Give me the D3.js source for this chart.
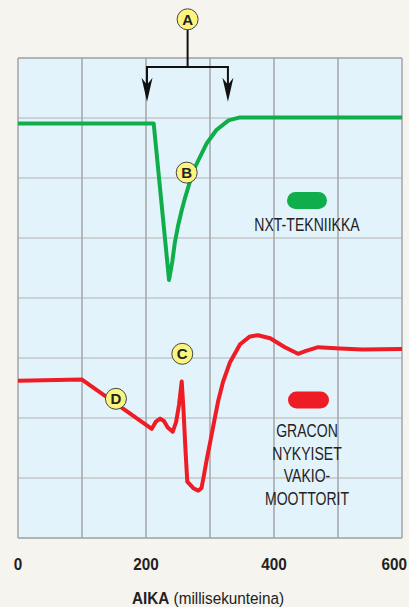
<!DOCTYPE html>
<html>
<head>
<meta charset="utf-8">
<script src="https://cdn.jsdelivr.net/npm/d3@7"></script>
<style>
  html, body { margin: 0; padding: 0; background: #f6f4ef; }
  svg { display: block; }
  text { font-family: "Liberation Sans Narrow", "Arial Narrow", "Liberation Sans", sans-serif; fill: #222; }
</style>
</head>
<body>
<svg width="409" height="607"></svg>
<script>
// time (ms) and response for the two motors
var nxtTime  = [0, 212, 236, 241, 245, 250, 256, 261, 267, 273, 282, 295, 310, 329, 347, 600];
var nxtValue = [6.91, 6.91, 4.30, 4.60, 4.92, 5.20, 5.47, 5.67, 5.88, 6.10, 6.30, 6.58, 6.80, 6.96, 7.01, 7.01];

var graconTime  = [0, 100, 209, 215.6, 222, 228, 234, 241.7, 247, 251.6, 255.8, 258.6, 261.7, 264.5, 274, 281.7, 286.7, 290.6, 295.3, 300, 306.3, 312.5, 320.3, 331.3, 347, 362.5, 375, 394, 417, 437.5, 450, 469, 503, 537.5, 600];
var graconValue = [2.62, 2.64, 1.82, 1.94, 1.99, 1.95, 1.84, 1.77, 1.93, 2.22, 2.61, 2.13, 1.47, 0.94, 0.83, 0.79, 0.83, 1.05, 1.33, 1.58, 1.93, 2.27, 2.60, 2.93, 3.23, 3.36, 3.38, 3.33, 3.18, 3.07, 3.12, 3.18, 3.16, 3.14, 3.15];

var xTicks = [0, 200, 400, 600];
var xGrid = [0, 100, 200, 300, 400, 500, 600];
var yGrid = [0, 1, 2, 3, 4, 5, 6, 7, 8];

// marker letters (ms, value)
var markerNames = ["A", "B", "C", "D"];
var markerTime  = [265, 263.6, 256.7, 153];
var markerValue = [8.645, 6.09, 3.07, 2.32];

// bracket of A: two arrows
var arrowTime = [201.6, 328];

var svg = d3.select("svg");
var x = d3.scaleLinear().domain([0, 600]).range([18, 402]);
var y = d3.scaleLinear().domain([0, 8]).range([538, 58]);

// condensed text: no narrow font installed, so squeeze horizontally
function narrowText(parent, px, py, sx, size) {
  return parent.append("g")
    .attr("transform", "translate(" + px + "," + py + ") scale(" + sx + ",1)")
    .append("text").attr("font-size", size);
}

// plot background
svg.append("rect")
  .attr("x", x(0)).attr("y", y(8))
  .attr("width", x(600) - x(0)).attr("height", y(0) - y(8))
  .attr("fill", "#e3f3fc");

svg.selectAll(".hg").data(yGrid).enter().append("line")
  .attr("x1", x(0)).attr("x2", x(600))
  .attr("y1", function (d) { return y(d) })
  .attr("y2", function (d) { return y(d) })
  .attr("stroke", "#c3c7ca").attr("stroke-width", 1.5);

svg.selectAll(".vg").data(xGrid).enter().append("line")
  .attr("y1", y(0)).attr("y2", y(8))
  .attr("x1", function (d) { return x(d) })
  .attr("x2", function (d) { return x(d) })
  .attr("stroke", "#a3a5a7").attr("stroke-width", 1.5);

svg.selectAll(".bd").data([0, 8]).enter().append("line")
  .attr("x1", x(0)).attr("x2", x(600))
  .attr("y1", function (d) { return y(d) })
  .attr("y2", function (d) { return y(d) })
  .attr("stroke", "#a8abad").attr("stroke-width", 1.5);

// x tick labels
xTicks.forEach(function (d, i) {
  var last = i === xTicks.length - 1;
  narrowText(svg, last ? x(d) + 5 : x(d), 570, 0.9, 17)
    .attr("text-anchor", last ? "end" : "middle")
    .attr("font-weight", "bold")
    .text(d);
});

var title = narrowText(svg, 208, 604, 0.9, 17).attr("text-anchor", "middle");
title.append("tspan").attr("font-weight", "bold").text("AIKA");
title.append("tspan").text(" (millisekunteina)");

// lines
var line = d3.line()
  .x(function (d) { return x(d[0]) })
  .y(function (d) { return y(d[1]) });

svg.append("path")
  .datum(d3.zip(nxtTime, nxtValue))
  .attr("d", line)
  .attr("fill", "none").attr("stroke", "#10ad4b").attr("stroke-width", 4)
  .attr("stroke-linejoin", "round");

svg.append("path")
  .datum(d3.zip(graconTime, graconValue))
  .attr("d", line)
  .attr("fill", "none").attr("stroke", "#ee1c25").attr("stroke-width", 4)
  .attr("stroke-linejoin", "round");

// bracket for A
var bracketY = 7.85, tipY = 7.27;
svg.append("line")
  .attr("x1", x(markerTime[0])).attr("x2", x(markerTime[0]))
  .attr("y1", y(markerValue[0])).attr("y2", y(bracketY))
  .attr("stroke", "#111").attr("stroke-width", 2);
svg.append("line")
  .attr("x1", x(arrowTime[0]) - 1).attr("x2", x(arrowTime[1]) + 1)
  .attr("y1", y(bracketY)).attr("y2", y(bracketY))
  .attr("stroke", "#111").attr("stroke-width", 2);
svg.selectAll(".stem").data(arrowTime).enter().append("line")
  .attr("x1", function (d) { return x(d) }).attr("x2", function (d) { return x(d) })
  .attr("y1", y(bracketY)).attr("y2", y(tipY) - 12)
  .attr("stroke", "#111").attr("stroke-width", 2);
svg.selectAll(".head").data(arrowTime).enter().append("path")
  .attr("transform", function (d) { return "translate(" + x(d) + "," + y(tipY) + ")" })
  .attr("d", "M0,0 L-5.5,-24 L0,-17 L5.5,-24 Z")
  .attr("fill", "#111");

// markers
var mk = svg.selectAll(".mk").data(markerNames).enter().append("g")
  .attr("transform", function (d, i) { return "translate(" + x(markerTime[i]) + "," + y(markerValue[i]) + ")" });
mk.append("circle").attr("r", 10.5)
  .attr("fill", "#fbf47e").attr("stroke", "#444").attr("stroke-width", 1);
mk.append("text").attr("text-anchor", "middle").attr("y", 5.5)
  .attr("font-family", "'Liberation Sans', Arial, sans-serif")
  .attr("font-size", 15).attr("font-weight", "bold").attr("fill", "#111")
  .text(function (d) { return d });

// legend
svg.append("rect").attr("x", 287).attr("y", 192).attr("width", 40).attr("height", 17)
  .attr("rx", 8.5).attr("fill", "#10ad4b");
narrowText(svg, 307, 231, 0.76, 18.5).attr("text-anchor", "middle").text("NXT-TEKNIIKKA");

svg.append("rect").attr("x", 288).attr("y", 391.5).attr("width", 41).attr("height", 17)
  .attr("rx", 8.5).attr("fill", "#ee1c25");
var redLabel = ["GRACON", "NYKYISET", "VAKIO-", "MOOTTORIT"];
redLabel.forEach(function (d, i) {
  narrowText(svg, 307, 437 + i * 22.5, 0.76, 18.5).attr("text-anchor", "middle").text(d);
});
</script>
</body>
</html>
